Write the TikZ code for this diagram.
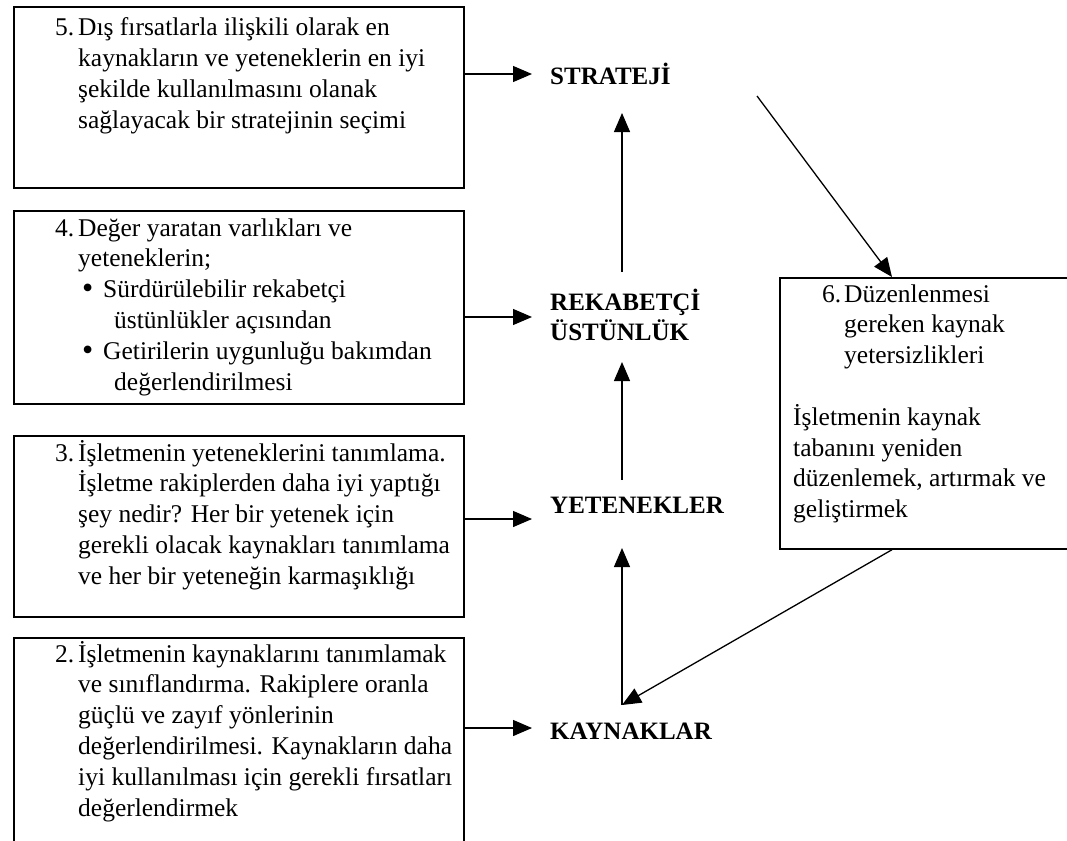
\documentclass[tikz,border=0pt]{standalone}
\usepackage{fontspec}
\setmainfont{Liberation Serif}
\usetikzlibrary{arrows.meta}
\newcommand\numlbl[1]{\makebox[23pt][l]{#1}}
\newcommand\bul{\makebox[21pt][l]{\raisebox{-1pt}{\fontsize{32}{30}\selectfont\textbullet}}}
\begin{document}
\begin{tikzpicture}[x=1pt,y=-1pt,
  box/.style={draw, line width=1.7pt, anchor=north west, inner sep=0pt},
  txt/.style={anchor=base west, inner sep=0pt, font=\fontsize{25.5}{30.8}\selectfont},
  lbl/.style={anchor=base west, inner sep=0pt, font=\fontsize{25}{30}\selectfont\bfseries},
  arr/.style={line width=1.3pt, -{Triangle[length=19pt,width=16pt]}}]
\useasboundingbox (0,0) rectangle (1067,840);
\clip (0,0) rectangle (1067,840);

% step boxes
\node[box, minimum width=450pt, minimum height=181pt] (b5) at (13,6) {};
\node[box, minimum width=450pt, minimum height=193pt] (b4) at (13,210) {};
\node[box, minimum width=450pt, minimum height=181pt] (b3) at (13,435) {};
\node[box, minimum width=450pt, minimum height=215pt] (b2) at (13,637) {};
\node[box, minimum width=300pt, minimum height=271pt] (b6) at (779,277) {};

% box texts
\node[txt] (t5) at (55,36) {\begin{tabular}[t]{@{}l@{}}
\numlbl{5.}Dış fırsatlarla ilişkili olarak en\\
\hspace*{23pt}kaynakların ve yeteneklerin en iyi\\
\hspace*{23pt}şekilde kullanılmasını olanak\\
\hspace*{23pt}sağlayacak bir stratejinin seçimi
\end{tabular}};

\node[txt] (t4) at (55,236) {\begin{tabular}[t]{@{}l@{}}
\numlbl{4.}Değer yaratan varlıkları ve\\
\hspace*{23pt}yeteneklerin;\\
\hspace*{27pt}\bul Sürdürülebilir rekabetçi\\
\hspace*{59pt}üstünlükler açısından\\
\hspace*{27pt}\bul Getirilerin uygunluğu bakımdan\\
\hspace*{59pt}değerlendirilmesi
\end{tabular}};

\node[txt] (t3) at (55,461) {\begin{tabular}[t]{@{}l@{}}
\numlbl{3.}İşletmenin yeteneklerini tanımlama.\\
\hspace*{23pt}İşletme rakiplerden daha iyi yaptığı\\
\hspace*{23pt}şey nedir? Her bir yetenek için\\
\hspace*{23pt}gerekli olacak kaynakları tanımlama\\
\hspace*{23pt}ve her bir yeteneğin karmaşıklığı
\end{tabular}};

\node[txt] (t2) at (55,662) {\begin{tabular}[t]{@{}l@{}}
\numlbl{2.}İşletmenin kaynaklarını tanımlamak\\
\hspace*{23pt}ve sınıflandırma. Rakiplere oranla\\
\hspace*{23pt}güçlü ve zayıf yönlerinin\\
\hspace*{23pt}değerlendirilmesi. Kaynakların daha\\
\hspace*{23pt}iyi kullanılması için gerekli fırsatları\\
\hspace*{23pt}değerlendirmek
\end{tabular}};

\node[txt] (t6) at (793,302) {\begin{tabular}[t]{@{}l@{}}
\hspace*{29pt}\makebox[22pt][l]{6.}Düzenlenmesi\\
\hspace*{51pt}gereken kaynak\\
\hspace*{51pt}yetersizlikleri\\
\\
İşletmenin kaynak\\
tabanını yeniden\\
düzenlemek, artırmak ve\\
geliştirmek
\end{tabular}};

% stage labels
\node[lbl] (strat) at (550,85) {STRATEJİ};
\node[lbl] (rek) at (550,310) {\begin{tabular}[t]{@{}l@{}}REKABETÇİ\\ÜSTÜNLÜK\end{tabular}};
\node[lbl] (yet) at (550,513) {YETENEKLER};
\node[lbl] (kay) at (550,739) {KAYNAKLAR};

% arrow ends
\coordinate (hS) at (532,74);
\coordinate (hR) at (532,317);
\coordinate (hY) at (532,519);
\coordinate (hK) at (532,728);
\coordinate (vS) at (622,113);
\coordinate (vR0) at (622,272);
\coordinate (vR) at (622,362);
\coordinate (vY0) at (622,480);
\coordinate (vY) at (622,548);
\coordinate (vK0) at (622,705);
\coordinate (dS) at (757,96);

% boxes to labels
\draw[arr] (b5.east |- hS) -- (hS);
\draw[arr] (b4.east |- hR) -- (hR);
\draw[arr] (b3.east |- hY) -- (hY);
\draw[arr] (b2.east |- hK) -- (hK);

% upward chain
\draw[arr] (vR0) -- (vS);
\draw[arr] (vY0) -- (vR);
\draw[arr] (vK0) -- (vY);

% feedback loop
\draw[arr] (dS) -- ([xshift=113pt]b6.north west);
\draw[arr] ([xshift=113pt]b6.south west) -- (vK0);
\end{tikzpicture}
\end{document}
